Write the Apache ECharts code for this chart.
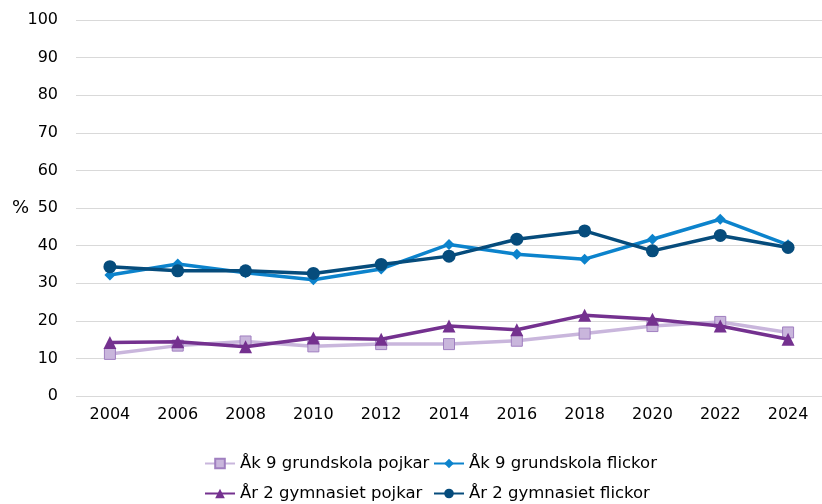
<!DOCTYPE html>
<html><head><meta charset="utf-8">
<script src="https://cdn.jsdelivr.net/npm/echarts@6/dist/echarts.min.js"></script>
<style>html,body{margin:0;padding:0;background:#fff}#c{width:822px;height:504px}</style>
</head><body><div id="c"></div>
<script>
const years = ['2004','2006','2008','2010','2012','2014','2016','2018','2020','2022','2024'];
const ak9Pojkar = [11.2, 13.4, 14.5, 13.2, 13.8, 13.8, 14.7, 16.6, 18.6, 19.7, 16.9];
const ak9Flickor = [32.2, 35.1, 32.8, 30.9, 33.8, 40.3, 37.7, 36.4, 41.7, 47.0, 40.2];
const ar2Pojkar = [14.2, 14.4, 13.1, 15.4, 15.1, 18.6, 17.6, 21.5, 20.4, 18.6, 15.1];
const ar2Flickor = [34.4, 33.3, 33.3, 32.6, 35.0, 37.2, 41.7, 43.9, 38.6, 42.7, 39.5];
const yTicks = [0, 10, 20, 30, 40, 50, 60, 70, 80, 90, 100];

const FONT = 'DejaVu Sans';
const names = ['Åk 9 grundskola pojkar','Åk 9 grundskola flickor','År 2 gymnasiet pojkar','År 2 gymnasiet flickor'];

const chart = echarts.init(document.getElementById('c'));
function leg(name, left, top){
  return {data:[name], left:left, top:top, itemWidth:30, itemHeight:12, itemGap:0, padding:0,
    textStyle:{fontFamily:FONT, fontSize:16.5, color:'#000'}};
}
chart.setOption({
  animation:false,
  textStyle:{fontFamily:FONT},
  grid:{left:76, top:20, width:751, height:376, containLabel:false},
  legend:[leg(names[0],204,455), leg(names[1],433,455), leg(names[2],204,485), leg(names[3],433,485)],
  xAxis:{type:'category', data:years, boundaryGap:true,
    axisLine:{show:false}, axisTick:{show:false},
    axisLabel:{fontFamily:FONT, fontSize:16, color:'#000', margin:11}},
  yAxis:{type:'value', min:yTicks[0], max:yTicks[yTicks.length-1], interval:10,
    name:'%', nameLocation:'middle', nameRotate:0, nameGap:47, nameMoveOverlap:false,
    nameTextStyle:{fontFamily:FONT, fontSize:18, color:'#000', padding:[3,0,0,0]},
    axisLine:{show:false}, axisTick:{show:false},
    axisLabel:{fontFamily:FONT, fontSize:16, color:'#000', margin:18},
    splitLine:{lineStyle:{color:'#d9d9d9', width:1}}},
  series:[
    {name:names[0], type:'line', data:ak9Pojkar, symbol:'rect', symbolSize:11, z:2,
      lineStyle:{color:'#c9b6dc', width:3.5}, itemStyle:{color:'#c9b6dc', borderColor:'#a07fc0', borderWidth:1}},
    {name:names[1], type:'line', data:ak9Flickor, symbol:'diamond', symbolSize:11, z:3,
      lineStyle:{color:'#0c83cc', width:3.5}, itemStyle:{color:'#0c83cc'}},
    {name:names[2], type:'line', data:ar2Pojkar, symbol:'triangle', symbolSize:13, z:4,
      lineStyle:{color:'#74318f', width:3.5}, itemStyle:{color:'#74318f'}},
    {name:names[3], type:'line', data:ar2Flickor, symbol:'circle', symbolSize:13, z:5,
      lineStyle:{color:'#064c7c', width:3.5}, itemStyle:{color:'#064c7c'}}
  ]
});
</script></body></html>
